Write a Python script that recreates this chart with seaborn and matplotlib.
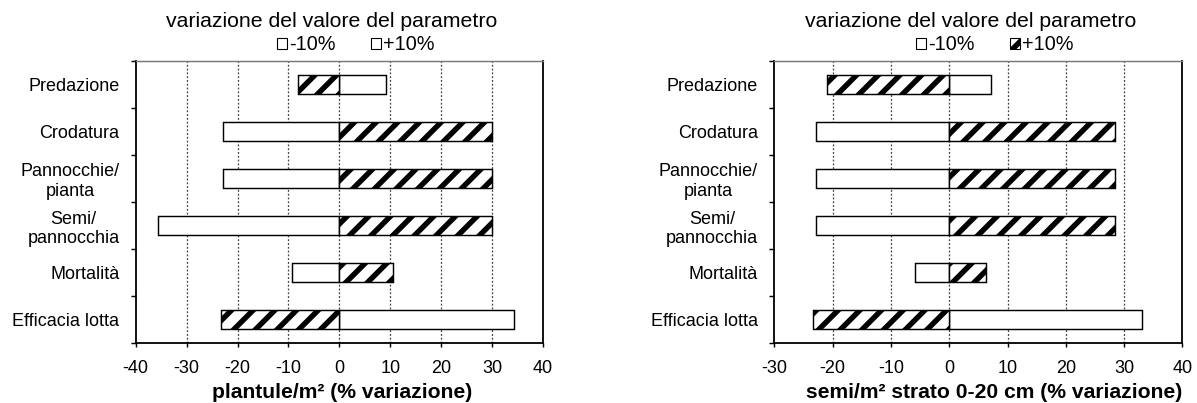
import numpy as np
import matplotlib
matplotlib.use("Agg")
import matplotlib.pyplot as plt
from matplotlib.patches import Patch
import seaborn as sns

# Set style
sns.set_theme(style="white")
plt.rcParams['font.family'] = ['Liberation Sans', 'DejaVu Sans']
plt.rcParams['hatch.linewidth'] = 3.0
plt.rcParams['axes.unicode_minus'] = False
for key in ['text.color', 'axes.labelcolor', 'xtick.color', 'ytick.color']:
    plt.rcParams[key] = 'black'

# Data (% variation)
categories = ["Predazione", "Crodatura", "Pannocchie/\npianta", "Semi/\npannocchia",
              "Mortalità", "Efficacia lotta"]
plantule_meno10 = [9.1, -22.8, -22.8, -35.7, -9.3, 34.3]
plantule_piu10 = [-8.2, 30.0, 30.0, 30.0, 10.5, -23.3]
semi_meno10 = [7.2, -22.9, -22.9, -22.9, -5.8, 33.0]
semi_piu10 = [-20.9, 28.4, 28.4, 28.4, 6.3, -23.3]

legend_labels = ["-10%", "+10%"]
title_text = "variazione del valore del parametro"

DPI = 130
fig = plt.figure(figsize=(1197 / DPI, 403 / DPI), dpi=DPI)
ax1 = fig.add_axes([0.1134, 0.1481, 0.3402, 0.7013])
ax2 = fig.add_axes([0.6469, 0.1481, 0.3409, 0.7013])


def draw_panel(ax, meno, piu, xmin, xmax, xlabel, xlabel_x, hatch_legend):
    sns.barplot(x=meno, y=categories, orient='h', color='white', saturation=1,
                edgecolor='black', linewidth=0.8, width=0.4, ax=ax)
    sns.barplot(x=piu, y=categories, orient='h', color='white', saturation=1,
                edgecolor='black', linewidth=0.8, width=0.4, hatch='//', ax=ax)

    ax.set_xlim(xmin, xmax)
    ax.set_ylim(len(categories) - 0.5, -0.5)
    ax.set_xticks(np.arange(xmin, xmax + 1, 10))
    ax.tick_params(axis='x', direction='out', length=2, width=0.8, pad=7.5,
                   labelsize=10, colors='black', bottom=True)

    # category labels in the middle, tick marks on the boundaries
    ax.set_yticks(np.arange(-0.5, len(categories), 1))
    ax.set_yticklabels([])
    ax.set_yticks(np.arange(len(categories)), minor=True)
    ax.set_yticklabels(categories, minor=True)
    ax.tick_params(axis='y', which='major', direction='out', length=3, width=0.8,
                   left=True, colors='black')
    ax.tick_params(axis='y', which='minor', length=0, pad=9, labelsize=10)
    for lab in ax.get_yticklabels(minor=True):
        lab.set_multialignment('center')

    ax.set_ylabel('')
    ax.grid(False)
    for x in range(xmin + 10, xmax, 10):
        ax.axvline(x, color='#444444', linestyle=(0, (1.5, 1.5)), linewidth=0.7, zorder=0)

    for side in ['left', 'bottom', 'right']:
        ax.spines[side].set_color('black')
        ax.spines[side].set_linewidth(1.0)
    ax.spines['top'].set_color('#777777')
    ax.spines['top'].set_linewidth(0.8)

    ax.set_xlabel(xlabel, fontsize=11.7, fontweight='bold')
    ax.xaxis.set_label_coords(xlabel_x, -0.14)
    ax.xaxis.label.set_va('top')

    ax.text(0.481, 1.119, title_text, transform=ax.transAxes, ha='center',
            va='baseline', fontsize=11.8)

    if hatch_legend:
        h2 = Patch(facecolor='white', edgecolor='black', linewidth=0.6, hatch='//')
    else:
        h2 = Patch(facecolor='white', edgecolor='black', linewidth=0.6)
    h1 = Patch(facecolor='white', edgecolor='black', linewidth=0.6)
    ax.legend([h1, h2], legend_labels, loc='center', bbox_to_anchor=(0.541, 1.056),
              ncol=2, frameon=False, fontsize=11, handlelength=0.5, handleheight=0.5,
              handletextpad=0.1, columnspacing=1.8, borderpad=0, borderaxespad=0)


draw_panel(ax1, plantule_meno10, plantule_piu10, -40, 40,
           "plantule/m² (% variazione)", 0.506, False)
draw_panel(ax2, semi_meno10, semi_piu10, -30, 40,
           "semi/m² strato 0-20 cm (% variazione)", 0.539, True)

fig.savefig('out.png', dpi=DPI)
